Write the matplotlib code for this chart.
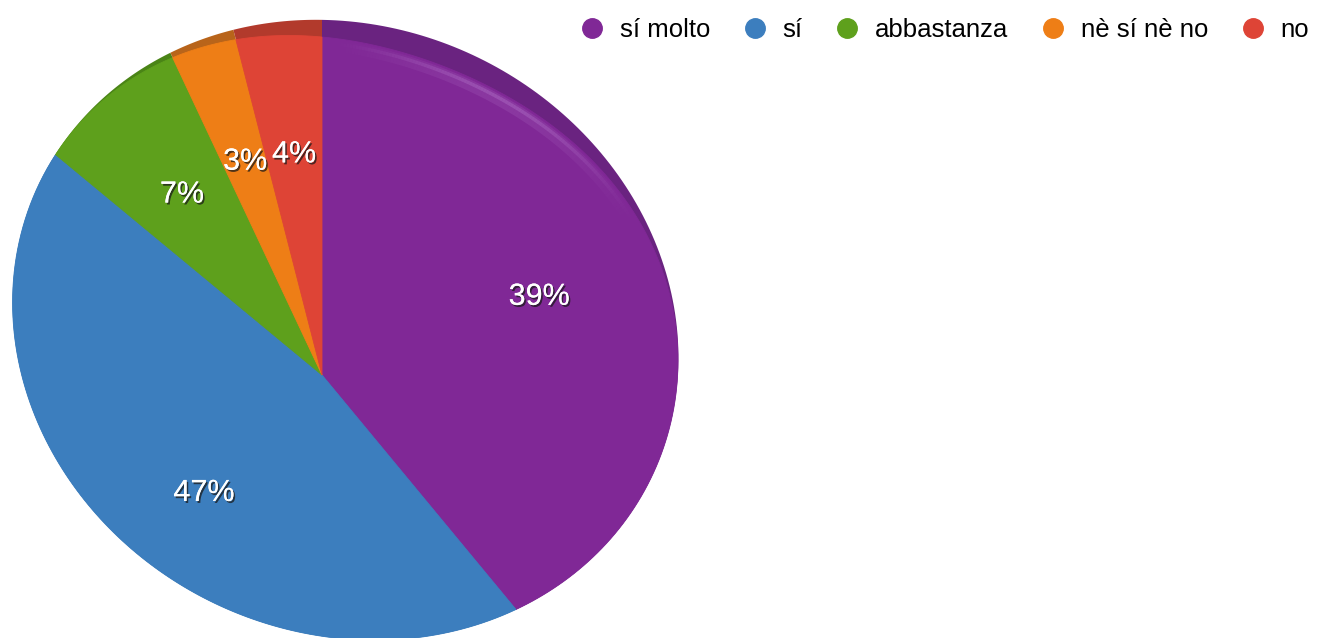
import numpy as np
import matplotlib
matplotlib.use("Agg")
import matplotlib.pyplot as plt
import matplotlib.transforms as mtransforms
import matplotlib.patheffects as pe
from matplotlib.path import Path
from matplotlib.lines import Line2D
from matplotlib.collections import LineCollection
from matplotlib.colors import to_rgb

categories = ["sí molto", "sí", "abbastanza", "nè sí nè no", "no"]
values = [39, 47, 7, 3, 4]
colors = ["#802896", "#3c7ebe", "#5ea01c", "#ee7e16", "#de4436"]
rim_colors = ["#6a2380", "#2f6498", "#4a8416", "#b8641a", "#b23a2c"]

# the pie is drawn as a tilted disc: outline ellipse (pixels) and the point where slices meet
disc_centre = (345.5, 330.0)
disc_semi = (339.5, 303.0)
disc_tilt = 25.7  # degrees, pixel axes (y down)
apex = (322, 375)


class PieProjection(mtransforms.Transform):
    """Maps the unit pie onto the tilted disc, keeping slice angles around the apex."""
    input_dims = output_dims = 2
    is_separable = False
    has_inverse = False

    def __init__(self, apex, centre, semi, tilt, lift=0.0):
        super().__init__()
        self.apex = np.asarray(apex, float)
        a = np.radians(tilt)
        R = np.array([[np.cos(a), -np.sin(a)], [np.sin(a), np.cos(a)]])
        self.S = R @ np.diag(1 / np.asarray(semi, float) ** 2) @ R.T
        self.w = self.apex - np.asarray(centre, float)
        self.lift = lift

    def reach(self, th):
        d = np.column_stack([np.cos(th), -np.sin(th)])
        A = np.einsum("ij,jk,ik->i", d, self.S, d)
        B = d @ (self.S @ self.w)
        C = self.w @ self.S @ self.w - 1
        r = (-B + np.sqrt(B * B - A * C)) / A
        # top face sits a little lower than the rim towards the back
        r = r - self.lift * np.clip(np.cos(th - np.radians(70)), 0, None) ** 4
        return r, d

    def transform_non_affine(self, values):
        v = np.atleast_2d(np.asarray(values, float))
        rho = np.hypot(v[:, 0], v[:, 1])
        th = np.arctan2(v[:, 1], v[:, 0])
        r, d = self.reach(th)
        return self.apex + (rho * r)[:, None] * d

    def transform_path_non_affine(self, path):
        verts, codes = [], []
        for seg, code in path.iter_bezier():
            if code == Path.MOVETO:
                verts.append(seg.control_points)
                codes.append(Path.MOVETO)
            else:
                pts = seg(np.linspace(0, 1, 33)[1:])
                verts.append(pts)
                codes += [Path.LINETO] * len(pts)
        return Path(self.transform_non_affine(np.vstack(verts)), codes)


outer = PieProjection(apex, disc_centre, disc_semi, disc_tilt)
face = PieProjection(apex, disc_centre, disc_semi, disc_tilt, lift=22)

plt.rcParams["font.family"] = ["Liberation Sans", "DejaVu Sans"]
fig = plt.figure(figsize=(13.32, 6.38), dpi=100)
ax = fig.add_axes([0, 0, 1, 1])

rim, _ = ax.pie(values, colors=rim_colors, startangle=90, counterclock=False,
                wedgeprops=dict(linewidth=0))
wedges, _, autotexts = ax.pie(values, colors=colors, startangle=90, counterclock=False,
                              autopct="%d%%", pctdistance=0.65, labeldistance=None,
                              wedgeprops=dict(linewidth=0.6))
ax.set_aspect("auto")
ax.set_xlim(0, 1332)
ax.set_ylim(638, 0)
ax.axis("off")

for w in rim:
    w.set_transform(outer + ax.transData)
    w.set_zorder(1)
for w in wedges:
    w.set_edgecolor(w.get_facecolor())
    w.set_transform(face + ax.transData)
    w.set_zorder(2)

# soft highlight just inside the raised edge, fading out at both ends
th = np.radians(np.linspace(25, 89, 120))
fade = np.sin(np.linspace(0, np.pi, len(th) - 1)) ** 1.5
glow = to_rgb("#c08ad8")
for rho, lw, alpha in [(0.978, 8, 0.16), (0.984, 2.5, 0.3)]:
    xy = np.column_stack([rho * np.cos(th), rho * np.sin(th)])
    segs = np.stack([xy[:-1], xy[1:]], axis=1)
    ax.add_collection(LineCollection(segs, colors=[(*glow, alpha * f) for f in fade], linewidths=lw,
                                     capstyle="butt", transform=face + ax.transData, zorder=3))

for t in autotexts:
    x, y = face.transform(np.array([t.get_position()]))[0]
    t.set_position((x, y))
    t.set_zorder(5)
    t.set_color("white")
    t.set_fontsize(22)
    t.set_path_effects([pe.withSimplePatchShadow(offset=(1.2, -1.4), shadow_rgbFace="#1a1a1a", alpha=0.75),
                        pe.Normal()])

handles = [Line2D([], [], ls="none", marker="o", markersize=14, color=c) for c in colors]
fig.legend(handles, categories, ncol=5, loc="center left", bbox_to_anchor=(582 / 1332, 1 - 30 / 638),
           frameon=False, fontsize=18.5, handlelength=0.78, handletextpad=0.68, columnspacing=1.36,
           borderpad=0, borderaxespad=0)

fig.savefig("out.png", dpi=100)
